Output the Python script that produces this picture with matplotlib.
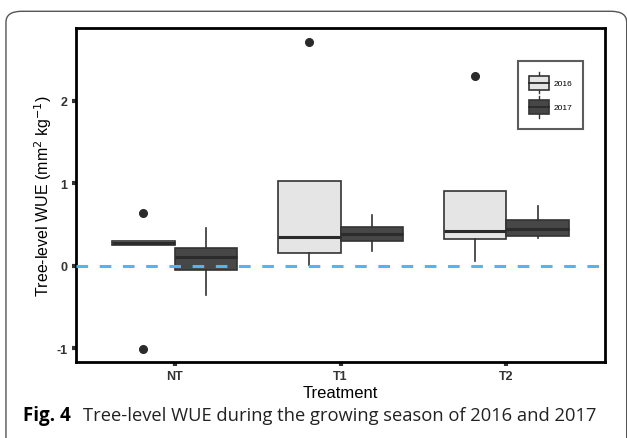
import matplotlib.pyplot as plt
from matplotlib.patches import FancyBboxPatch, Patch, Rectangle
from matplotlib.lines import Line2D
from matplotlib.legend_handler import HandlerBase

treatments = ["NT", "T1", "T2"]
years = ["2016", "2017"]

# box stats: whisker low, q1, median, q3, whisker high
stats_2016 = [
    (0.25, 0.25, 0.275, 0.30, 0.30),
    (0.01, 0.155, 0.343, 1.033, 1.033),
    (0.06, 0.327, 0.42, 0.902, 0.902),
]
stats_2017 = [
    (-0.355, -0.049, 0.102, 0.212, 0.461),
    (0.176, 0.294, 0.388, 0.473, 0.612),
    (0.331, 0.359, 0.441, 0.551, 0.722),
]
outliers_2016 = [[0.633, -1.016], [2.714], [2.302]]
outliers_2017 = [[], [], []]

fills = {"2016": "#e5e5e5", "2017": "#474747"}
edge = "#333333"


class BoxHandler(HandlerBase):
    # small box-and-whisker key like ggplot's
    def create_artists(self, legend, orig_handle, xdescent, ydescent, width, height, fontsize, trans):
        x0, y0 = -xdescent, -ydescent
        bh = height * 0.64
        by = y0 + (height - bh) / 2
        xm = x0 + width / 2
        wl = Line2D([xm, xm], [y0, y0 + height], color=edge, lw=1.0, transform=trans)
        r = Rectangle((x0, by), width, bh, facecolor=orig_handle.get_facecolor(),
                      edgecolor=edge, lw=1.2, transform=trans)
        md = Line2D([x0, x0 + width], [by + bh / 2] * 2, color="#2b2b2b", lw=1.3, transform=trans)
        return [wl, r, md]


fig = plt.figure(figsize=(6.27, 4.39), dpi=100)
plt.rcParams['font.family'] = ['Liberation Sans', 'DejaVu Sans']

# card border
card = FancyBboxPatch((0.0095, -0.05), 0.99, 1.022, boxstyle="round,pad=0,rounding_size=0.025",
                      transform=fig.transFigure, fill=False, edgecolor="#555555", linewidth=1.0)
fig.patches.append(card)

ax = fig.add_axes([0.1212, 0.1731, 0.8438, 0.760])

def make(stats, outs):
    out = []
    for (lo, q1, med, q3, hi), fl in zip(stats, outs):
        out.append(dict(whislo=lo, q1=q1, med=med, q3=q3, whishi=hi, fliers=fl))
    return out

w = 0.375
pos = [1, 2, 3]
for yr, stats, outs, off in [("2016", stats_2016, outliers_2016, -w / 2),
                             ("2017", stats_2017, outliers_2017, w / 2)]:
    ax.bxp(make(stats, outs), positions=[p + off for p in pos], widths=w,
           patch_artist=True, showcaps=False,
           boxprops=dict(facecolor=fills[yr], edgecolor=edge, linewidth=1.2),
           medianprops=dict(color="#2b2b2b", linewidth=2.2),
           whiskerprops=dict(color=edge, linewidth=1.2),
           flierprops=dict(marker="o", markerfacecolor="#2b2b2b", markeredgecolor="#2b2b2b",
                           markersize=5.5))

ax.axhline(0, color="#56b4e9", linestyle=(0, (3.8, 3.8)), linewidth=2.2, zorder=3)

ax.set_xlim(0.406, 3.594)
ax.set_ylim(-1.17, 2.88)
ax.set_xticks(pos)
ax.set_xticklabels(treatments, fontsize=9, fontweight="bold", color="#333333")
ax.set_yticks([-1, 0, 1, 2])
ax.set_yticklabels(["-1", "0", "1", "2"], fontsize=9, fontweight="bold", color="#333333")
ax.tick_params(axis="both", length=3, width=3, color="#333333", pad=3)
for s in ax.spines.values():
    s.set_linewidth(2)
    s.set_color("black")

ax.set_xlabel("Treatment", fontsize=12, labelpad=2)
ax.set_ylabel("Tree-level WUE (mm$^2$ kg$^{-1}$)", fontsize=11.5, labelpad=2)

handles = [Patch(facecolor=fills[y], edgecolor=edge) for y in years]
leg = ax.legend(handles, years, loc="upper right", bbox_to_anchor=(0.958, 0.903),
                borderaxespad=0, fontsize=6, frameon=True, fancybox=False, edgecolor="#333333",
                handler_map={Patch: BoxHandler()},
                handlelength=2.4, handleheight=3.67, borderpad=1.3, labelspacing=0.3,
                handletextpad=0.5)
leg.get_frame().set_linewidth(1.5)

fig.text(0.037, 0.042, "Fig. 4", fontsize=13.5, fontweight="bold", family="Open Sans")
fig.text(0.132, 0.042, "Tree-level WUE during the growing season of 2016 and 2017",
         fontsize=13.2, family="Open Sans", color="#222222")

fig.savefig("out.png", dpi=100)
